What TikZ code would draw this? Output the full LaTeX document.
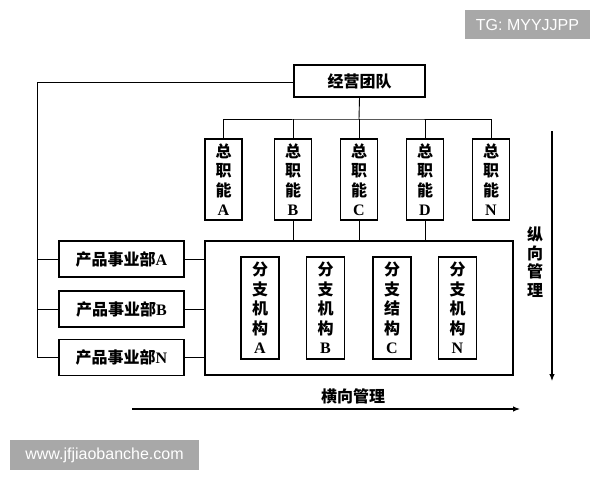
\documentclass[tikz,border=0pt]{standalone}
\usepackage{fontspec}
\setmainfont{Liberation Serif}
\newfontfamily\cjk{Noto Sans CJK SC}
\newfontfamily\wmfont{Liberation Sans}
\usetikzlibrary{arrows.meta}
\definecolor{wmgray}{HTML}{A8A8A8}
\begin{document}
\begin{tikzpicture}[x=1pt,y=-1pt,
  box/.style={draw,line width=1.3pt,inner sep=0pt,align=center},
  conn/.style={line width=0.9pt},
  vfont/.style={font=\cjk\bfseries\fontsize{16}{19.5}\selectfont},
  hfont/.style={font=\cjk\bfseries\fontsize{16}{18}\selectfont},
  funcbox/.style={box,vfont,minimum width=37pt,minimum height=81pt},
  branchbox/.style={box,vfont,minimum width=38pt,minimum height=102pt},
  prodbox/.style={box,hfont,minimum width=125pt,minimum height=36pt},
  wmbox/.style={fill=wmgray,text=white,inner sep=0pt,font=\wmfont\fontsize{16}{18}\selectfont},
  arr/.style={line width=1.1pt,-{Latex[length=7pt,width=5.5pt]}}]
\useasboundingbox (0,0) rectangle (600,480);
\fill[white] (0,0) rectangle (600,480);

% watermarks
\node[wmbox,minimum width=125pt,minimum height=29pt] (tg) at (527.5,24.5) {TG: MYYJJPP};
\node[wmbox,minimum width=189pt,minimum height=30pt] (www) at (104.5,455) {www.jfjiaobanche.com};

% top team
\node[box,hfont,minimum width=131pt,minimum height=32pt] (team) at (359.5,81) {经营团队};

% functions
\node[funcbox] (f1) at (223.5,179.5) {总\\职\\能\\{\rmfamily A}};
\node[funcbox] (f2) at (293,179.5) {总\\职\\能\\{\rmfamily B}};
\node[funcbox] (f3) at (359,179.5) {总\\职\\能\\{\rmfamily C}};
\node[funcbox] (f4) at (425,179.5) {总\\职\\能\\{\rmfamily D}};
\node[funcbox] (f5) at (491,179.5) {总\\职\\能\\{\rmfamily N}};

% big box
\node[draw,line width=1.1pt,minimum width=308pt,minimum height=134pt,inner sep=0pt] (big) at (359,308) {};

% branches
\node[branchbox] (b1) at (260,308) {分\\支\\机\\构\\{\rmfamily A}};
\node[branchbox] (b2) at (325.5,308) {分\\支\\机\\构\\{\rmfamily B}};
\node[branchbox] (b3) at (392,308) {分\\支\\结\\构\\{\rmfamily C}};
\node[branchbox] (b4) at (457.5,308) {分\\支\\机\\构\\{\rmfamily N}};

% product divisions
\node[prodbox] (pA) at (121.5,259) {产品事业部{\rmfamily A}};
\node[prodbox] (pB) at (121.5,309) {产品事业部{\rmfamily B}};
\node[prodbox] (pN) at (121.5,357.5) {产品事业部{\rmfamily N}};

% bus from team to functions
\coordinate (bus) at (359,119);
\draw[conn] (team.south) -- (bus);
\draw[conn] (f1.north) |- (bus) -| (f5.north);
\draw[conn] (f2.north) -- (f2.north |- bus);
\draw[conn] (f3.north) -- (f3.north |- bus);
\draw[conn] (f4.north) -- (f4.north |- bus);

% functions to big box
\draw[conn] (f2.south) -- (f2.south |- big.north);
\draw[conn] (f3.south) -- (f3.south |- big.north);
\draw[conn] (f4.south) -- (f4.south |- big.north);

% left line from team to product divisions
\coordinate (lx) at (37,82);
\draw[conn] (team.west |- lx) -- (lx) -- (lx |- pN.west) -- (pN.west);
\draw[conn] (lx |- pA.west) -- (pA.west);
\draw[conn] (lx |- pB.west) -- (pB.west);

% product divisions to big box
\draw[conn] (pA.east) -- (pA.east -| big.west);
\draw[conn] (pB.east) -- (pB.east -| big.west);
\draw[conn] (pN.east) -- (pN.east -| big.west);

% management arrows
\coordinate (vs) at (552,131);
\coordinate (ve) at (552,381);
\draw[arr] (vs) -- (ve);
\node[font=\cjk\bfseries\fontsize{16}{18.5}\selectfont,align=center,inner sep=0pt] (zx) at (535,262) {纵\\向\\管\\理};

\coordinate (hs) at (132,409);
\coordinate (he) at (520,409);
\draw[arr] (hs) -- (he);
\node[hfont,inner sep=0pt] (hx) at (353,396) {横向管理};
\end{tikzpicture}
\end{document}
